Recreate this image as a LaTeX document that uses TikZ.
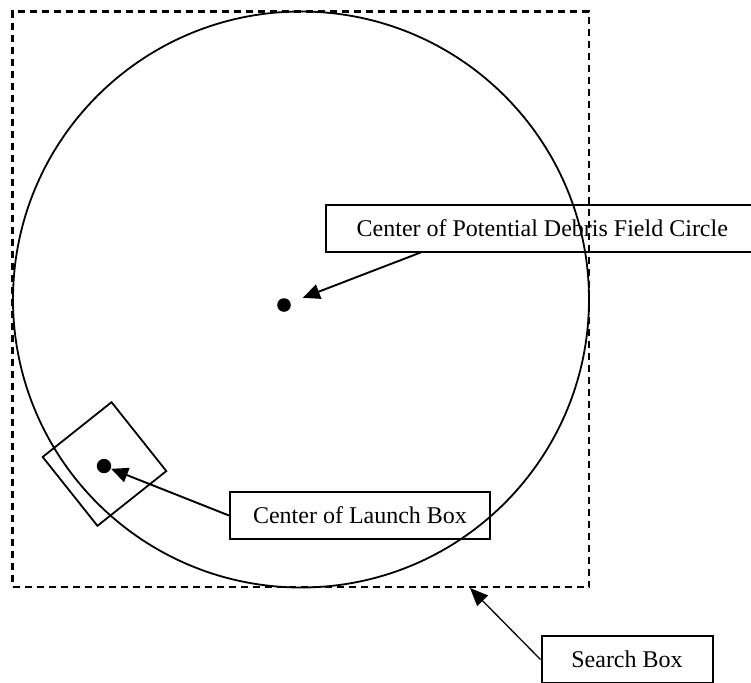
\documentclass[tikz,border=0pt]{standalone}
\usepackage{fontspec}
\setmainfont{Liberation Serif}
\usetikzlibrary{arrows.meta}
\begin{document}
\begin{tikzpicture}[x=0.5pt,y=-0.5pt,
  labelbox/.style={draw, line width=1pt, rectangle, inner sep=0pt, minimum height=23.5pt, font=\fontsize{12pt}{14pt}\selectfont},
  dot/.style={circle, fill=black, inner sep=0pt, minimum size=6.8pt},
  pointer/.style={line width=0.95pt, -{Triangle[length=8.5pt,width=7.5pt]}},
  thinpointer/.style={line width=0.65pt, -{Triangle[length=9pt,width=7.5pt]}}]
\useasboundingbox (0,0) rectangle (751,682);
\clip (0,0) rectangle (751,682);
% search box (dashed)
\node[draw, dashed, dash pattern=on 3.5pt off 2.5pt, line width=1.1pt, inner sep=0pt,
      minimum width=288.25pt, minimum height=287.75pt] (search) at (300.75,299.25) {};
% debris field circle
\node[draw, circle, line width=0.9pt, inner sep=0pt, minimum size=288pt] (field) at (301,299.5) {};
% launch box (rotated square)
\node[draw, line width=0.9pt, inner sep=0pt, minimum size=44pt, rotate=38.5] (launch) at (104.5,464) {};
% centres
\node[dot] (dc) at (284,305) {};
\node[dot, minimum size=7.2pt] (lc) at (104,466) {};
% labels
\node[labelbox, minimum width=216.5pt] (deb) at (542.3,228) {Center of Potential Debris Field Circle};
\node[labelbox, minimum width=130pt] (lb) at (360,515.5) {Center of Launch Box};
\node[labelbox, minimum width=85.5pt] (sb) at (627,659.5) {Search Box};
% connectors
\coordinate (sbtip) at (470,588);
\draw[pointer, shorten >=6.5pt] ([xshift=47.9pt]deb.south west) -- (dc);
\draw[pointer] (lb.west) -- (lc);
\draw[thinpointer] (sb.west) -- (sbtip);
\end{tikzpicture}
\end{document}
